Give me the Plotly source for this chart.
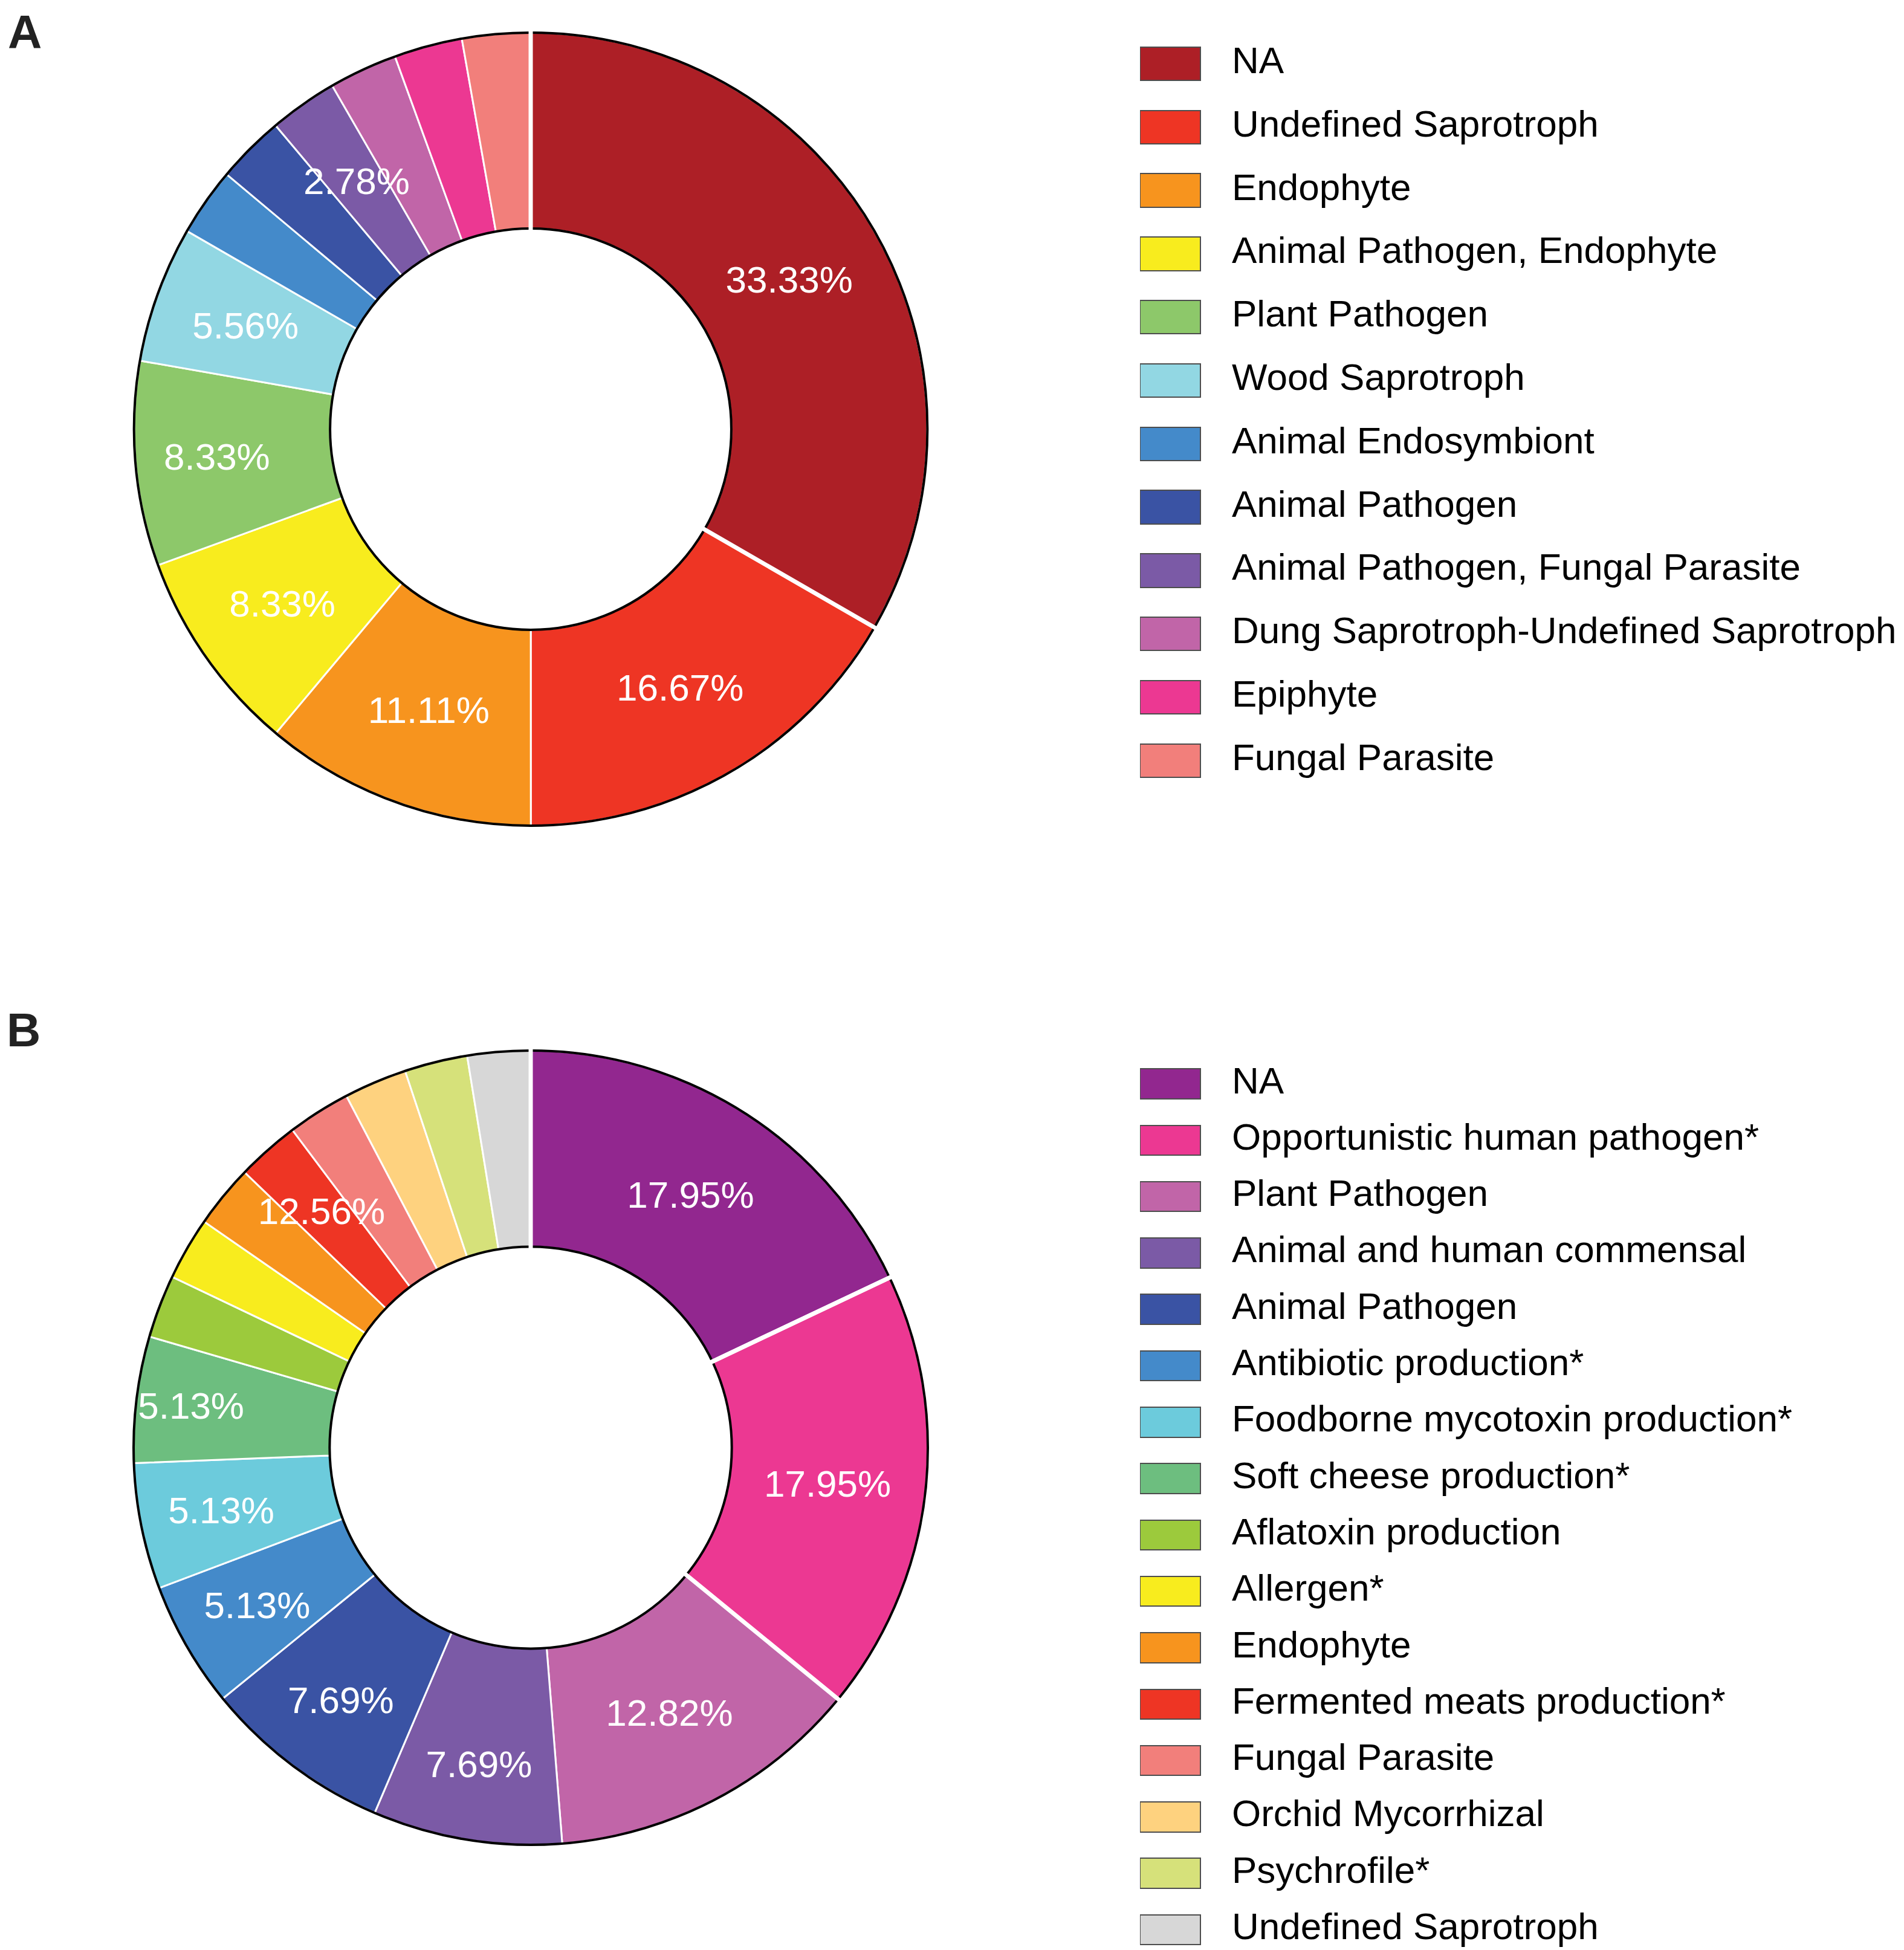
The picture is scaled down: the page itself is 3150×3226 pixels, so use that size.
import plotly.graph_objects as go

W, H = 3150, 3226

# panel A - fungal guilds
labels_a = ["NA", "Undefined Saprotroph", "Endophyte", "Animal Pathogen, Endophyte",
            "Plant Pathogen", "Wood Saprotroph", "Animal Endosymbiont", "Animal Pathogen",
            "Animal Pathogen, Fungal Parasite", "Dung Saprotroph-Undefined Saprotroph",
            "Epiphyte", "Fungal Parasite"]
values_a = [33.33, 16.67, 11.11, 8.33, 8.33, 5.56, 2.78, 2.78, 2.78, 2.78, 2.78, 2.78]
shown_a = ["33.33%", "16.67%", "11.11%", "8.33%", "8.33%", "5.56%", "", "", "2.78%", "", "", ""]
colors_a = ["#AD1F26", "#EE3524", "#F7941E", "#F8EC1E", "#8DC86A", "#92D7E3",
            "#448ACA", "#3A53A4", "#7B5AA6", "#C165A8", "#EC3892", "#F27F7B"]
split_a = ["NA"]

# panel B - functions
labels_b = ["NA", "Opportunistic human pathogen*", "Plant Pathogen", "Animal and human commensal",
            "Animal Pathogen", "Antibiotic production*", "Foodborne mycotoxin production*",
            "Soft cheese production*", "Aflatoxin production", "Allergen*", "Endophyte",
            "Fermented meats production*", "Fungal Parasite", "Orchid Mycorrhizal",
            "Psychrofile*", "Undefined Saprotroph"]
values_b = [17.95, 17.95, 12.82, 7.69, 7.69, 5.13, 5.13, 5.13,
            2.56, 2.56, 2.56, 2.56, 2.56, 2.56, 2.56, 2.56]
shown_b = ["17.95%", "17.95%", "12.82%", "7.69%", "7.69%", "5.13%", "5.13%", "5.13%",
           "", "", "", "12.56%", "", "", "", ""]
colors_b = ["#92278F", "#EC3892", "#C165A8", "#7B5AA6", "#3A53A4", "#448ACA", "#6CCBDC",
            "#6DBE7F", "#9CCA3C", "#F8EC1E", "#F7941E", "#EE3524", "#F27F7B", "#FED27F",
            "#D6E17A", "#D7D7D7"]
split_b = ["NA", "Opportunistic human pathogen*"]

FONT = "Liberation Sans, Arial, Helvetica, sans-serif"
HOLE = 0.506
CLEAR = "rgba(0,0,0,0)"


def py(y):
    return 1 - y / H


def donut_domain(cx, cy, r):
    return dict(x=[(cx - r) / W, (cx + r) / W], y=[py(cy + r), py(cy - r)])


def label_layers(values, shown):
    # plotly centres horizontal text of wide slices (or slices crossing an axis)
    # mid-ring; the other labels go on a thin transparent ring at the same radius
    total = sum(values)
    main, thin = [], []
    start = 0.0
    for v, t in zip(values, shown):
        a0, a1 = start, start + 360 * v / total
        start = a1
        crossing = any(a0 < k * 90 < a1 for k in (1, 2, 3))
        if crossing or (a1 - a0) > 38:
            main.append(t)
            thin.append("")
        else:
            main.append("")
            thin.append(t)
    return main, thin


fig = go.Figure()


def add_donut(labels, values, shown, colors, split, cx, cy, r, label_r):
    dom = donut_domain(cx, cy, r)
    n = len(values)
    fig.add_trace(go.Pie(
        labels=labels, values=values, textinfo="none",
        marker=dict(colors=colors, line=dict(color="white", width=3)),
        hole=HOLE, sort=False, direction="clockwise", rotation=0,
        domain=dom, showlegend=False, hoverinfo="label+percent",
    ))
    # black outline of the ring
    fig.add_trace(go.Pie(
        labels=["outline"], values=[1], textinfo="none",
        marker=dict(colors=[CLEAR], line=dict(color="black", width=4)),
        hole=HOLE, sort=False, domain=dom, showlegend=False, hoverinfo="skip",
    ))
    # wider white cuts around the leading slices (arcs fall outside the ring)
    ext = 24
    fig.add_trace(go.Pie(
        labels=labels, values=values, textinfo="none",
        marker=dict(colors=[CLEAR] * n,
                    line=dict(color="white", width=[7 if l in split else 0 for l in labels])),
        hole=(HOLE * r - ext) / (r + ext), sort=False, direction="clockwise", rotation=0,
        domain=donut_domain(cx, cy, r + ext), showlegend=False, hoverinfo="skip",
    ))
    main, thin = label_layers(values, shown)
    for txt, rr, hole in [(main, r, HOLE), (thin, r * label_r / 0.95, 0.9)]:
        fig.add_trace(go.Pie(
            labels=labels, values=values, text=txt, textinfo="text",
            textposition="inside", insidetextorientation="horizontal",
            textfont=dict(family=FONT, size=62, color="white"),
            marker=dict(colors=[CLEAR] * n, line=dict(width=0)),
            hole=hole, sort=False, direction="clockwise", rotation=0,
            domain=donut_domain(cx, cy, rr), showlegend=False, hoverinfo="skip",
        ))


def add_key(labels, colors, first_row, row_h, top_px, xa, ya, bottom_px):
    # swatches drawn as bars, labels as text next to them
    n = len(labels)
    x0, sw = 1878, 100
    text_x = (2030 - x0) / sw
    dom_h = bottom_px - top_px
    fig.add_trace(go.Bar(
        x=[1] * n, y=labels, orientation="h", width=0.53,
        marker=dict(color=colors, line=dict(color="#4d4d4d", width=2)),
        xaxis=xa, yaxis=ya, showlegend=False, hoverinfo="y",
    ))
    fig.add_trace(go.Scatter(
        x=[text_x] * n, y=labels, mode="text", text=labels,
        textposition="middle right",
        textfont=dict(family=FONT, size=62, color="black"),
        xaxis=xa, yaxis=ya, showlegend=False, hoverinfo="skip",
    ))
    start = -0.5 - (first_row - row_h / 2 - top_px) / row_h
    axis_x = dict(domain=[x0 / W, 1.0], range=[0, (W - x0) / sw], visible=False,
                  fixedrange=True)
    axis_y = dict(domain=[py(bottom_px), py(top_px)],
                  range=[start + dom_h / row_h, start], visible=False,
                  type="category", fixedrange=True)
    return axis_x, axis_y


add_donut(labels_a, values_a, shown_a, colors_a, split_a, 870, 702, 656, 0.765)
add_donut(labels_b, values_b, shown_b, colors_b, split_b, 870, 2387, 657, 0.795)

xa2, ya2 = add_key(labels_a, colors_a, 97.5, 104.8, 40, "x2", "y2", 1320)
xa3, ya3 = add_key(labels_b, colors_b, 1785, 93.3, 1735, "x3", "y3", H)

fig.update_layout(
    width=W, height=H,
    margin=dict(l=0, r=0, t=0, b=0, pad=0),
    paper_bgcolor="white", plot_bgcolor=CLEAR,
    font=dict(family=FONT, color="black"),
    uniformtext=dict(minsize=62, mode="show"),
    xaxis=dict(visible=False), yaxis=dict(visible=False),
    xaxis2=xa2, yaxis2=ya2, xaxis3=xa3, yaxis3=ya3,
    bargap=0,
    annotations=[
        dict(text="<b>A</b>", x=4 / W, y=1, xref="paper", yref="paper",
             xanchor="left", yanchor="top", showarrow=False, borderpad=0,
             font=dict(family=FONT, size=78, color="#222222")),
        dict(text="<b>B</b>", x=2 / W, y=py(1696), xref="paper", yref="paper",
             xanchor="left", yanchor="middle", showarrow=False, borderpad=0,
             font=dict(family=FONT, size=78, color="#222222")),
    ],
)

fig.write_html("out.html")
